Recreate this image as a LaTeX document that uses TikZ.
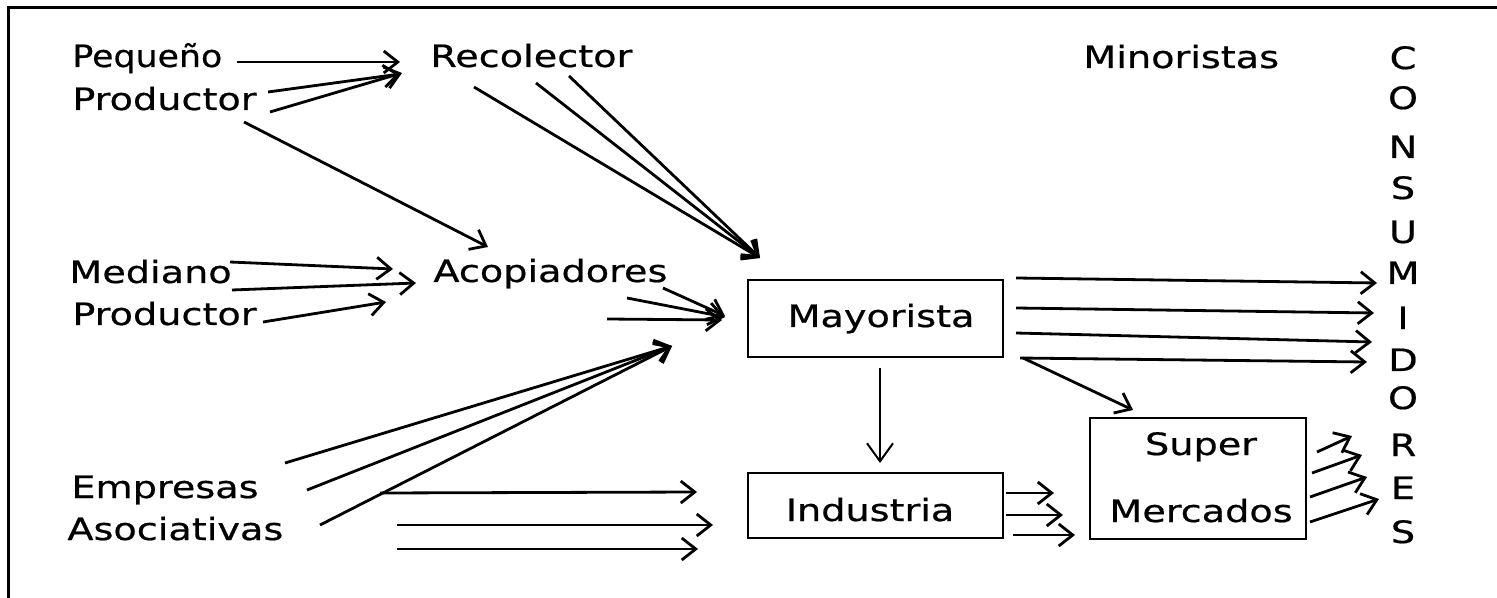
\documentclass[tikz,border=0pt]{standalone}
\usepackage{fontspec}
\setmainfont{DejaVu Sans}[FakeStretch=1.24,FakeBold=0.6]
\usetikzlibrary{arrows.meta}
\begin{document}
\begin{tikzpicture}[x=0.5pt,y=-0.5pt,
  lbl/.style={anchor=base west,inner sep=0pt,font=\fontsize{15.4}{18}\selectfont},
  ctr/.style={anchor=base,inner sep=0pt,font=\fontsize{15.4}{18}\selectfont},
  box/.style={draw,line width=1.4pt,inner sep=0pt},
  arr/.style={line width=1.4pt,-{Straight Barb[length=7pt,width=11pt]}},
  thinarr/.style={line width=1pt,-{Straight Barb[length=9pt,width=13pt]}},
  frameline/.style={line width=1.5pt,line join=miter}]
\useasboundingbox (0,0) rectangle (1497,598);
% frame
\coordinate (fbl) at (8,600);
\coordinate (ftl) at (8,8);
\coordinate (ftr) at (1499,8);
\draw[frameline] (fbl) -- (ftl) -- (ftr);
% text nodes
\node[lbl] (peq) at (72,67) {\scalebox{0.91}[1]{Pequeño}};
\node[lbl] (prodA) at (72,110) {Productor};
\node[lbl] (rec) at (430,67) {Recolector};
\node[lbl] (mino) at (1083,68) {Minoristas};
\node[lbl] (med) at (69,283) {Mediano};
\node[lbl] (prodB) at (72,325) {Productor};
\node[lbl] (acop) at (433,282) {Acopiadores};
\node[lbl] (emp) at (71,498) {Empresas};
\node[lbl] (aso) at (67,540) {Asociativas};
% boxes
\node[box,minimum width=255*0.5pt,minimum height=77*0.5pt] (may) at (875.5,318.5) {};
\node[ctr] (mayt) at (881,327) {Mayorista};
\node[box,minimum width=255*0.5pt,minimum height=65*0.5pt] (ind) at (875.5,505.5) {};
\node[ctr] (indt) at (870,521) {Industria};
\node[box,minimum width=216*0.5pt,minimum height=121*0.5pt] (sm) at (1198,478.5) {};
\node[ctr] (supt) at (1201,455) {Super};
\node[ctr] (mert) at (1201,522) {Mercados};
% CONSUMIDORES
\foreach \l/\yy [count=\i] in {C/58,O/98,N/147,S/188,U/232,M/273,I/318,D/360,O/398,R/445,E/488,S/532}
  \node[ctr] (c\i) at (1403,\yy+11) {\l};
% coordinates
\coordinate (p1s) at (237,62);  \coordinate (p1e) at (400,62);
\coordinate (p2s) at (268,92);  \coordinate (p2e) at (400,74);
\coordinate (p3s) at (270,112); \coordinate (p3e) at (402,73);
\coordinate (p4s) at (244,122); \coordinate (p4e) at (488,247);
\coordinate (r1s) at (474,87);  \coordinate (r2s) at (536,83);
\coordinate (r3s) at (569,76);  \coordinate (rtip) at (760,258);
\coordinate (m1s) at (230,262); \coordinate (m1e) at (393,269);
\coordinate (m2s) at (232,290); \coordinate (m2e) at (416,283);
\coordinate (m3s) at (263,322); \coordinate (m3e) at (386,302);
\coordinate (a1s) at (663,288); \coordinate (a1e) at (725,316);
\coordinate (a2s) at (627,298); \coordinate (a2e) at (725,317);
\coordinate (a3s) at (607,319); \coordinate (a3e) at (722,320);
\coordinate (e1s) at (285,463); \coordinate (e2s) at (307,490);
\coordinate (e3s) at (320,525); \coordinate (etip) at (672,346);
\coordinate (h1s) at (380,493); \coordinate (h1e) at (697,492);
\coordinate (h2s) at (397,525); \coordinate (h2e) at (713,525);
\coordinate (h3s) at (397,549); \coordinate (h3e) at (698,549);
\coordinate (y1s) at (1016,278); \coordinate (y1e) at (1377,283);
\coordinate (y2s) at (1016,308); \coordinate (y2e) at (1374,313);
\coordinate (y3s) at (1016,333); \coordinate (y3e) at (1372,342);
\coordinate (y4s) at (1020,358); \coordinate (y4e) at (1367,362);
\coordinate (ys) at (1023,358);  \coordinate (ye) at (1133,410);
\coordinate (vs) at (880,368);   \coordinate (ve) at (880,463);
\coordinate (i1s) at (1006,493); \coordinate (i1e) at (1054,493);
\coordinate (i2s) at (1006,515); \coordinate (i2e) at (1063,515);
\coordinate (i3s) at (1013,535); \coordinate (i3e) at (1075,535);
\coordinate (s1s) at (1317,452); \coordinate (s1e) at (1352,436);
\coordinate (s2s) at (1312,473); \coordinate (s2e) at (1362,455);
\coordinate (s3s) at (1310,497); \coordinate (s3e) at (1367,477);
\coordinate (s4s) at (1310,522); \coordinate (s4e) at (1379,499);
% arrows
\draw[arr] (p1s) -- (p1e);
\draw[arr] (p2s) -- (p2e);
\draw[arr] (p3s) -- (p3e);
\draw[arr] (p4s) -- (p4e);
\draw[arr] (r1s) -- (rtip);
\draw[arr] (r2s) -- (rtip);
\draw[arr] (r3s) -- (rtip);
\draw[arr] (m1s) -- (m1e);
\draw[arr] (m2s) -- (m2e);
\draw[arr] (m3s) -- (m3e);
\draw[arr] (a1s) -- (a1e);
\draw[arr] (a2s) -- (a2e);
\draw[arr] (a3s) -- (a3e);
\draw[arr] (e1s) -- (etip);
\draw[arr] (e2s) -- (etip);
\draw[arr] (e3s) -- (etip);
\draw[arr] (h1s) -- (h1e);
\draw[arr] (h2s) -- (h2e);
\draw[arr] (h3s) -- (h3e);
\draw[arr] (y1s) -- (y1e);
\draw[arr] (y2s) -- (y2e);
\draw[arr] (y3s) -- (y3e);
\draw[arr] (y4s) -- (y4e);
\draw[arr] (ys) -- (ye);
\draw[thinarr] (vs) -- (ve);
\draw[arr] (i1s) -- (i1e);
\draw[arr] (i2s) -- (i2e);
\draw[arr] (i3s) -- (i3e);
\draw[arr] (s1s) -- (s1e);
\draw[arr] (s2s) -- (s2e);
\draw[arr] (s3s) -- (s3e);
\draw[arr] (s4s) -- (s4e);
\end{tikzpicture}
\end{document}
